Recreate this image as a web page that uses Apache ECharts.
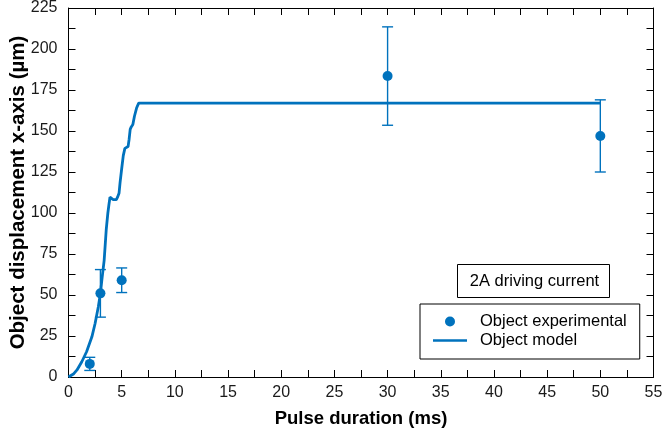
<!DOCTYPE html>
<html>
<head>
<meta charset="utf-8">
<script src="https://cdn.jsdelivr.net/npm/echarts@6/dist/echarts.min.js"></script>
<style>
  html, body { margin: 0; padding: 0; background: #fff; }
  #chart { width: 663px; height: 436px; }
</style>
</head>
<body>
<div id="chart"></div>
<script>
// Measured displacement (µm) for each pulse duration (ms), with symmetric error
const expDuration = [2, 3, 5, 30, 50];
const expDisplacement = [8, 51, 59, 183.5, 147];
const expError = [4, 14.5, 7.5, 30, 22];

// Simulated displacement curve
const modelDuration = [0, 0.1, 0.5, 0.8, 1.25, 1.7, 2.2, 2.5, 2.8, 3.0, 3.15, 3.35, 3.55, 3.7, 3.8, 3.9, 4.0, 4.2, 4.5, 4.6, 4.75, 4.85, 5.0, 5.15, 5.3, 5.45, 5.6, 5.7, 5.8, 5.9, 6.05, 6.2, 6.4, 6.6, 50];
const modelDisplacement = [0, 0.2, 2, 4.3, 9.3, 15.4, 24.5, 32.6, 42.7, 51, 60, 71, 90, 100, 105, 109.6, 109, 108.2, 108.2, 109.5, 112, 118.7, 127, 135, 139.4, 140, 140.5, 145, 151, 152.5, 154, 159, 164, 167, 167];

const xTicks = { min: 0, max: 55, step: 2.5, labelStep: 5 };
const yTicks = { min: 0, max: 225, step: 12.5, labelStep: 25 };

const BLUE = '#0072BD';
const FONT = 'Liberation Sans';

const chart = echarts.init(document.getElementById('chart'));

function axisCommon(t, showLabels, margin) {
  return {
    type: 'value',
    min: t.min, max: t.max, interval: t.step,
    nameMoveOverlap: false,
    axisLine: { show: true, onZero: false, lineStyle: { color: '#000', width: 1 } },
    axisTick: { show: true, inside: true, length: 7, lineStyle: { color: '#000', width: 1 } },
    splitLine: { show: false },
    axisLabel: {
      show: showLabels,
      fontFamily: FONT, fontSize: 16, color: '#1a1a1a', margin: margin,
      formatter: v => (Math.abs(v / t.labelStep - Math.round(v / t.labelStep)) < 1e-6 ? String(v) : '')
    }
  };
}

const xBottom = Object.assign(axisCommon(xTicks, true, 8), {
  position: 'bottom',
  name: 'Pulse duration (ms)', nameLocation: 'middle', nameGap: 32,
  nameTextStyle: { fontFamily: FONT, fontSize: 18.5, fontWeight: 'bold', color: '#000' }
});
const xTop = Object.assign(axisCommon(xTicks, false, 8), { position: 'top' });
const yLeft = Object.assign(axisCommon(yTicks, true, 11), {
  position: 'left',
  name: 'Object displacement x-axis (µm)', nameLocation: 'middle', nameGap: 40,
  nameTextStyle: { fontFamily: FONT, fontSize: 20.5, fontWeight: 'bold', color: '#000' }
});
const yRight = Object.assign(axisCommon(yTicks, false, 8), { position: 'right' });

const errorData = expDuration.map((x, i) => [x, expDisplacement[i] - expError[i], expDisplacement[i] + expError[i]]);

chart.setOption({
  animation: false,
  backgroundColor: '#fff',
  grid: { left: 68.5, right: 9.5, top: 8, bottom: 59, containLabel: false, outerBoundsMode: 'none' },
  xAxis: [xBottom, xTop],
  yAxis: [yLeft, yRight],
  legend: {
    orient: 'vertical',
    left: 420, top: 304,
    backgroundColor: '#fff',
    borderColor: '#000', borderWidth: 1,
    padding: [8, 13, 9, 13],
    itemGap: 0,
    itemWidth: 34, itemHeight: 10,
    textStyle: { fontFamily: FONT, fontSize: 16.5, lineHeight: 19, color: '#000', padding: [0, 0, 0, 8] },
    data: [
      { name: 'Object experimental', icon: 'circle', itemStyle: { color: BLUE } },
      { name: 'Object model', icon: 'path://M0,0 L40,0 L40,3 L0,3 Z', itemStyle: { color: BLUE } }
    ]
  },
  graphic: [{
    type: 'group', left: 457, top: 264,
    children: [
      { type: 'rect', shape: { x: 0, y: 0, width: 152, height: 33 }, style: { fill: '#fff', stroke: '#000', lineWidth: 1 } },
      { type: 'text', x: 77, y: 17, style: { text: '2A driving current', fontFamily: FONT, fontSize: 16.5, fill: '#000', align: 'center', verticalAlign: 'middle' } }
    ]
  }],
  series: [
    {
      name: 'Object model',
      type: 'line',
      data: modelDuration.map((x, i) => [x, modelDisplacement[i]]),
      symbol: 'none',
      lineStyle: { color: BLUE, width: 2.8 },
      itemStyle: { color: BLUE },
      z: 2
    },
    {
      name: 'error',
      type: 'custom',
      data: errorData,
      renderItem: (params, api) => {
        const x = api.value(0);
        const lo = api.coord([x, api.value(1)]);
        const hi = api.coord([x, api.value(2)]);
        const half = 5.5;
        const style = { stroke: BLUE, lineWidth: 1.4, fill: null };
        return {
          type: 'group',
          children: [
            { type: 'line', shape: { x1: lo[0], y1: lo[1], x2: hi[0], y2: hi[1] }, style },
            { type: 'line', shape: { x1: hi[0] - half, y1: hi[1], x2: hi[0] + half, y2: hi[1] }, style },
            { type: 'line', shape: { x1: lo[0] - half, y1: lo[1], x2: lo[0] + half, y2: lo[1] }, style }
          ]
        };
      },
      z: 3
    },
    {
      name: 'Object experimental',
      type: 'scatter',
      data: expDuration.map((x, i) => [x, expDisplacement[i]]),
      symbol: 'circle',
      symbolSize: 10,
      itemStyle: { color: BLUE, opacity: 1 },
      z: 4
    }
  ]
});
</script>
</body>
</html>
